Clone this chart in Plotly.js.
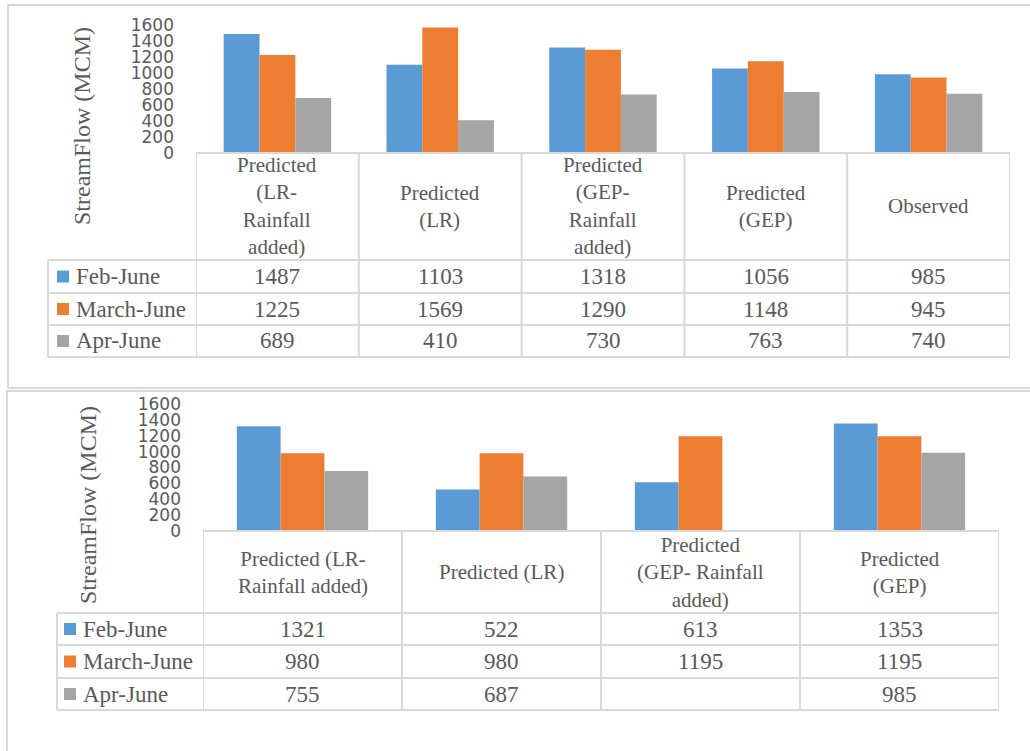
<!DOCTYPE html>
<html>
<head>
<meta charset="utf-8">
<script src="https://cdn.plot.ly/plotly-3.0.1.min.js"></script>
<style>
html,body{margin:0;padding:0;background:#fff;}
#chart{width:1030px;height:751px;}
</style>
</head>
<body>
<div id="chart"></div>
<script>
// ---------- DATA ----------
const seriesNames = ['Feb-June', 'March-June', 'Apr-June'];
const seriesColors = ['#5B9BD5', '#ED7D31', '#A5A5A5'];

const categoriesTop = ['Predicted (LR-Rainfall added)', 'Predicted (LR)', 'Predicted (GEP-Rainfall added)', 'Predicted (GEP)', 'Observed'];
const headerLabelsTop = ['Predicted<br>(LR-<br>Rainfall<br>added)', 'Predicted<br>(LR)', 'Predicted<br>(GEP-<br>Rainfall<br>added)', 'Predicted<br>(GEP)', 'Observed'];
const febTop = [1487, 1103, 1318, 1056, 985];
const marchTop = [1225, 1569, 1290, 1148, 945];
const aprTop = [689, 410, 730, 763, 740];

const categoriesBottom = ['Predicted (LR-Rainfall added)', 'Predicted (LR)', 'Predicted (GEP-Rainfall added)', 'Predicted (GEP)'];
const headerLabelsBottom = ['Predicted (LR-<br>Rainfall added)', 'Predicted (LR)', 'Predicted<br>(GEP- Rainfall<br>added)', 'Predicted<br>(GEP)'];
const febBottom = [1321, 522, 613, 1353];
const marchBottom = [980, 980, 1195, 1195];
const aprBottom = [755, 687, null, 985];

const yTickVals = [0, 200, 400, 600, 800, 1000, 1200, 1400, 1600];
const yTitle = 'StreamFlow (MCM)';

// ---------- LAYOUT HELPERS ----------
const W = 1030, H = 751;
const px = x => x / W;
const py = y => 1 - y / H;
const textColor = '#595959';
const gridColor = '#D9D9D9';
const serif = 'Liberation Serif, Times New Roman, serif';

const panels = [
  {cats: categoriesTop, headers: headerLabelsTop, series: [febTop, marchTop, aprTop],
   xa: 'x', ya: 'y', axKey: '', left: 196, right: 1010, yZero: 153, yTop: 25,
   rows: [260, 293, 325, 357], legLeft: 48, markerX: 57, textX: 74, titleX: 82, titleY: 126},
  {cats: categoriesBottom, headers: headerLabelsBottom, series: [febBottom, marchBottom, aprBottom],
   xa: 'x2', ya: 'y2', axKey: '2', left: 203, right: 999, yZero: 531, yTop: 404,
   rows: [613, 645, 678, 710], legLeft: 57, markerX: 64, textX: 81, titleX: 88, titleY: 505}
];

const data = [];
const annotations = [];
const shapes = [];
const layout = {
  width: W, height: H,
  margin: {l: 0, r: 0, t: 0, b: 0},
  paper_bgcolor: '#fff', plot_bgcolor: 'rgba(0,0,0,0)',
  barmode: 'group', bargap: 0.34, bargroupgap: 0,
  showlegend: false,
  font: {family: serif, color: textColor},
  annotations: annotations, shapes: shapes
};

const line = (x0, y0, x1, y1, xref) => ({type: 'line', xref: xref || 'paper', yref: 'paper',
  x0: x0, y0: y0, x1: x1, y1: y1, line: {color: gridColor, width: 2}});

// outer panel frames
shapes.push({type: 'rect', xref: 'paper', yref: 'paper', x0: px(8), x1: px(1045), y0: py(388), y1: py(5),
  line: {color: gridColor, width: 2}, fillcolor: 'rgba(0,0,0,0)'});
shapes.push({type: 'rect', xref: 'paper', yref: 'paper', x0: px(7), x1: px(1045), y0: py(765), y1: py(391),
  line: {color: gridColor, width: 2}, fillcolor: 'rgba(0,0,0,0)'});

panels.forEach(p => {
  const n = p.cats.length;
  p.series.forEach((vals, s) => {
    data.push({type: 'bar', x: p.cats, y: vals, name: seriesNames[s], xaxis: p.xa, yaxis: p.ya,
      marker: {color: seriesColors[s], line: {width: 0}}, hoverinfo: 'x+y+name'});
  });
  layout['xaxis' + p.axKey] = {domain: [px(p.left), px(p.right)], anchor: p.ya, type: 'category',
    range: [-0.5, n - 0.5], showticklabels: false, ticks: '', showline: false, showgrid: false, zeroline: false, fixedrange: true};
  layout['yaxis' + p.axKey] = {domain: [py(p.yZero), py(p.yTop)], anchor: p.xa, range: [0, 1600],
    tickvals: yTickVals, ticks: '', showline: false, showgrid: false, zeroline: false, ticklabelstandoff: 21,
    tickfont: {family: 'DejaVu Sans, sans-serif', size: 17, color: textColor}, fixedrange: true};

  // y title
  annotations.push({text: yTitle, xref: 'paper', yref: 'paper', x: px(p.titleX), y: py(p.titleY),
    textangle: -90, showarrow: false, xanchor: 'center', yanchor: 'middle',
    font: {family: serif, size: 24, color: textColor}});

  // header labels
  const headerMid = py((p.yZero + p.rows[0]) / 2);
  p.cats.forEach((c, i) => {
    annotations.push({text: p.headers[i], x: c, xref: p.xa, y: headerMid, yref: 'paper', showarrow: false,
      xanchor: 'center', yanchor: 'middle', font: {family: serif, size: 21, color: textColor}});
  });

  // rows
  p.series.forEach((vals, s) => {
    const mid = (p.rows[s] + p.rows[s + 1]) / 2;
    annotations.push({text: seriesNames[s], xref: 'paper', yref: 'paper', x: px(p.textX), y: py(mid),
      xanchor: 'left', yanchor: 'middle', showarrow: false, font: {family: serif, size: 23, color: textColor}});
    shapes.push({type: 'rect', xref: 'paper', yref: 'paper', x0: px(p.markerX), x1: px(p.markerX + 12),
      y0: py(mid + 6), y1: py(mid - 6), fillcolor: seriesColors[s], line: {width: 0}});
    vals.forEach((v, i) => {
      if (v === null) return;
      annotations.push({text: String(v), x: p.cats[i], xref: p.xa, y: py(mid), yref: 'paper', showarrow: false,
        xanchor: 'center', yanchor: 'middle', font: {family: serif, size: 23, color: textColor}});
    });
  });

  // table grid
  shapes.push(line(px(p.left), py(p.yZero), px(p.right), py(p.yZero)));
  p.rows.forEach(r => shapes.push(line(px(p.legLeft), py(r), px(p.right), py(r))));
  shapes.push(line(px(p.legLeft), py(p.rows[0]), px(p.legLeft), py(p.rows[3])));
  for (let i = 0; i <= n; i++) {
    shapes.push(line(i - 0.5, py(p.yZero), i - 0.5, py(p.rows[3]), p.xa));
  }
});

Plotly.newPlot('chart', data, layout, {displayModeBar: false, staticPlot: true});
</script>
</body>
</html>
